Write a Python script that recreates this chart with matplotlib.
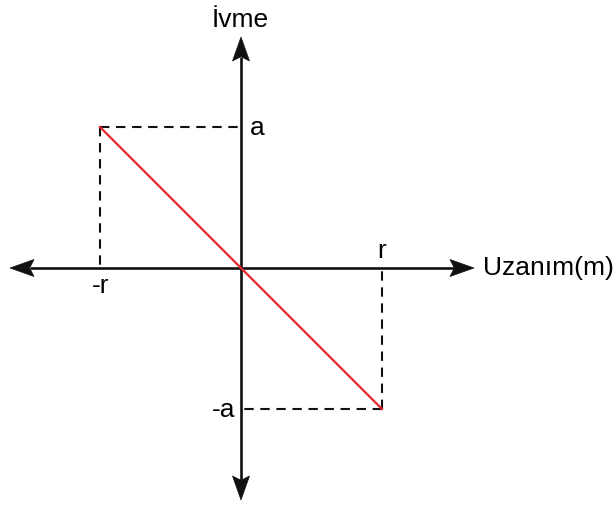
import matplotlib
matplotlib.use('Agg')
import matplotlib.pyplot as plt

plt.rcParams['font.family'] = ['Liberation Sans', 'DejaVu Sans']

# displacement / acceleration (r = 1, a = 1)
x_vals = [-1.0, 1.0]
y_vals = [1.0, -1.0]
x_label = 'Uzanım(m)'
y_label = 'İvme'
tick_labels = ['a', '-a', 'r', '-r']

PX = 141.0  # pixels per unit
OX, OY = 241.0, 268.0


def px(x, y):
    # pixel position -> data position
    return (x - OX) / PX, (OY - y) / PX


fig = plt.figure(figsize=(6.14, 5.07), dpi=100)
ax = fig.add_axes([0, 0, 1, 1])
ax.set_xlim(px(0, 0)[0], px(614, 0)[0])
ax.set_ylim(px(0, 507)[1], px(0, 0)[1])
ax.axis('off')

axc = '#111111'
HL, HW, NOTCH = 24 / PX, 8.5 / PX, 0.82  # head length, half width, notch


def head(tx, ty, dx, dy):
    pts = [(0, 0), (-HL, HW), (-HL * NOTCH, 0), (-HL, -HW)]
    xs = [tx + x * dx - y * dy for x, y in pts]
    ys = [ty + x * dy + y * dx for x, y in pts]
    ax.fill(xs, ys, color=axc, lw=0.5, zorder=6)


left, right = px(10, 0)[0], px(474, 0)[0]
top, bottom = px(0, 37)[1], px(0, 500)[1]
back = HL * NOTCH
ax.plot([left + back, right - back], [0, 0], color=axc, lw=1.9,
        solid_capstyle='butt')
ax.plot([0, 0], [bottom + back, top - back], color=axc, lw=1.9,
        solid_capstyle='butt')
head(right, 0, 1, 0)
head(left, 0, -1, 0)
head(0, top, 0, 1)
head(0, bottom, 0, -1)

# dashed guides
dash = dict(color='#111111', lw=1.5, ls=(0, (4.5, 3.2)))
ax.plot([x_vals[0], 0], [y_vals[0], y_vals[0]], **dash)
ax.plot([x_vals[0], x_vals[0]], [y_vals[0], 0], **dash)
ax.plot([x_vals[1], 0], [y_vals[1], y_vals[1]], **dash)
ax.plot([x_vals[1], x_vals[1]], [y_vals[1], 0], **dash)

# the line
ax.plot(x_vals, y_vals, color='#e8262b', lw=1.6, zorder=5)

fs = 19
ax.text(*px(240, 27), y_label, fontsize=fs, ha='center', va='baseline')
ax.text(*px(483, 275), x_label, fontsize=fs, ha='left', va='baseline')
ax.text(*px(250, 135), tick_labels[0], fontsize=fs, ha='left', va='baseline')
ax.text(*px(235, 417), tick_labels[1], fontsize=fs, ha='right', va='baseline')
ax.text(*px(382, 258), tick_labels[2], fontsize=fs, ha='center', va='baseline')
ax.text(*px(101, 293), tick_labels[3], fontsize=fs, ha='center', va='baseline')

fig.savefig('out.png', dpi=100, facecolor='white')
